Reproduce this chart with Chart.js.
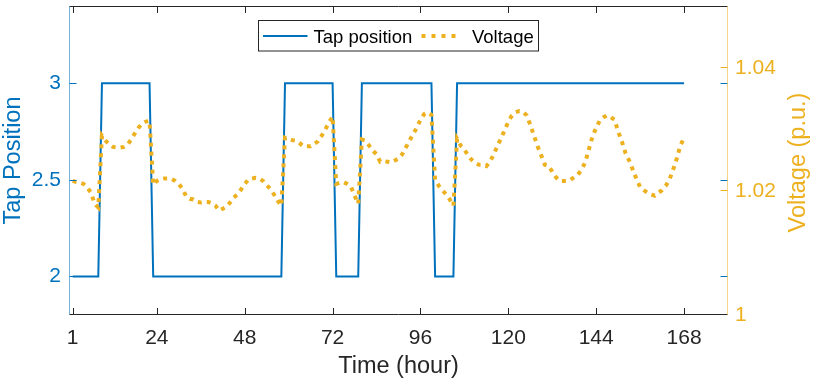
<!DOCTYPE html>
<html>
<head>
<meta charset="utf-8">
<script src="https://cdn.jsdelivr.net/npm/chart.js@4.4.1/dist/chart.umd.min.js"></script>
<style>
  html, body { margin: 0; padding: 0; background: #ffffff; }
  canvas { display: block; }
</style>
</head>
<body>
<canvas id="c" width="814" height="383"></canvas>
<script>
// ---------------- DATA ----------------
const hours = Array.from({ length: 168 }, (_, i) => i + 1);

const tapPosition = [
  2,2,2,2,2,2,2,2,
  3,3,3,3,3,3,3,3,3,3,3,3,3,3,
  2,2,2,2,2,2,2,2,2,2,2,2,
  2,2,2,2,2,2,2,2,2,2,2,2,
  2,2,2,2,2,2,2,2,2,2,2,2,
  3,3,3,3,3,3,3,3,3,3,3,3,3,3,
  2,2,2,2,2,2,2,
  3,3,3,3,3,3,3,3,3,3,
  3,3,3,3,3,3,3,3,3,3,
  2,2,2,2,2,2,
  3,3,3,3,3,3,3,3,3,3,
  3,3,3,3,3,3,3,3,3,3,
  3,3,3,3,3,3,3,3,3,3,
  3,3,3,3,3,3,3,3,3,3,
  3,3,3,3,3,3,3,3,3,3,
  3,3,3,3,3,3,3,3,3,3,
  3,3,3
];

const voltage = [
  1.0217,1.0215,1.0214,1.0212,1.0206,1.0198,1.0180,1.0174,1.0290,1.0282,
  1.0276,1.0272,1.0271,1.0271,1.0272,1.0276,1.0284,1.0294,1.0303,1.0310,
  1.0313,1.0314,1.0211,1.0217,1.0220,1.0221,1.0221,1.0220,1.0217,1.0212,
  1.0204,1.0192,1.0188,1.0187,1.0183,1.0182,1.0183,1.0183,1.0181,1.0177,
  1.0169,1.0172,1.0175,1.0182,1.0190,1.0195,1.0203,1.0212,1.0219,1.0221,
  1.0222,1.0221,1.0217,1.0210,1.0204,1.0195,1.0185,1.0177,1.0287,1.0285,
  1.0283,1.0282,1.0278,1.0273,1.0273,1.0273,1.0277,1.0281,1.0290,1.0300,
  1.0312,1.0321,1.0212,1.0214,1.0215,1.0212,1.0208,1.0193,1.0180,1.0284,
  1.0282,1.0274,1.0266,1.0260,1.0248,1.0249,1.0248,1.0247,1.0250,1.0253,
  1.0260,1.0271,1.0282,1.0293,1.0303,1.0316,1.0325,1.0328,1.0324,1.0219,
  1.0209,1.0202,1.0195,1.0187,1.0177,1.0285,1.0274,1.0268,1.0258,1.0251,
  1.0246,1.0243,1.0243,1.0241,1.0248,1.0260,1.0273,1.0286,1.0299,1.0313,
  1.0323,1.0328,1.0330,1.0329,1.0323,1.0308,1.0290,1.0273,1.0258,1.0243,
  1.0241,1.0232,1.0223,1.0217,1.0217,1.0217,1.0219,1.0223,1.0227,1.0235,
  1.0247,1.0268,1.0289,1.0303,1.0315,1.0320,1.0323,1.0320,1.0316,1.0297,
  1.0281,1.0262,1.0250,1.0235,1.0220,1.0207,1.0202,1.0198,1.0195,1.0193,
  1.0198,1.0202,1.0209,1.0219,1.0235,1.0253,1.0274,1.0287
];

const xTicks = [1, 24, 48, 72, 96, 120, 144, 168];
const xTickLabels = ['1', '24', '48', '72', '96', '120', '144', '168'];
const tapTicks = [2, 2.5, 3];
const tapTickLabels = ['2', '2.5', '3'];
const voltTicks = [1, 1.02, 1.04];
const voltTickLabels = ['1', '1.02', '1.04'];

const seriesNames = ['Tap position', 'Voltage'];
const axisTitles = { x: 'Time (hour)', left: 'Tap Position', right: 'Voltage (p.u.)' };

// ---------------- STYLE ----------------
const BLUE = '#0072BD';
const ORANGE = '#EDB120';
const DARK = '#262626';
const FONT = "'Liberation Sans', Arial, Helvetica, sans-serif";
const TICK_SIZE = 21;
const TITLE_SIZE = 23.5;
const LEGEND_SIZE = 18.5;

const framePlugin = {
  id: 'matlabFrame',
  afterDatasetsDraw(chart) {
    const ctx = chart.ctx;
    const a = chart.chartArea;
    const xs = chart.scales.x, yl = chart.scales.yTap, yr = chart.scales.yVolt;
    const L = Math.round(a.left) + 0.5, R = Math.round(a.right) - 0.5;
    const T = Math.round(a.top) + 0.5, B = Math.round(a.bottom) - 0.5;
    const tl = 6.5;
    ctx.save();
    ctx.lineWidth = 1;
    ctx.setLineDash([]);
    // x ticks (bottom & top, inward)
    ctx.strokeStyle = DARK;
    ctx.beginPath();
    xTicks.forEach(v => {
      const px = Math.round(xs.getPixelForValue(v)) + 0.5;
      ctx.moveTo(px, B); ctx.lineTo(px, B - tl);
      ctx.moveTo(px, T); ctx.lineTo(px, T + tl);
    });
    ctx.stroke();
    // tap ticks (both sides)
    ctx.strokeStyle = BLUE;
    ctx.beginPath();
    tapTicks.forEach(v => {
      const py = Math.round(yl.getPixelForValue(v)) + 0.5;
      ctx.moveTo(L, py); ctx.lineTo(L + 7, py);
      ctx.moveTo(R, py); ctx.lineTo(R - 7, py);
    });
    ctx.stroke();
    // voltage ticks (right side)
    ctx.strokeStyle = ORANGE;
    ctx.beginPath();
    voltTicks.forEach(v => {
      const py = Math.round(yr.getPixelForValue(v)) - 0.5;
      ctx.moveTo(R, py); ctx.lineTo(R - 7, py);
    });
    ctx.stroke();
    // frame
    ctx.strokeStyle = DARK;
    ctx.beginPath();
    ctx.moveTo(L, T); ctx.lineTo(R, T);
    ctx.moveTo(L, B); ctx.lineTo(R, B);
    ctx.stroke();
    ctx.strokeStyle = 'rgba(0,114,189,0.55)';
    ctx.beginPath(); ctx.moveTo(L, T); ctx.lineTo(L, B); ctx.stroke();
    ctx.strokeStyle = 'rgba(237,177,32,0.55)';
    ctx.beginPath(); ctx.moveTo(R, T); ctx.lineTo(R, B); ctx.stroke();
    ctx.restore();
  },
  afterDraw(chart) {
    const ctx = chart.ctx;
    const a = chart.chartArea;
    const ds = chart.data.datasets;
    ctx.save();
    // right axis title, reading bottom-to-top
    ctx.font = TITLE_SIZE + 'px ' + FONT;
    ctx.fillStyle = ORANGE;
    ctx.textAlign = 'center';
    ctx.textBaseline = 'middle';
    ctx.translate(a.right + 71, (a.top + a.bottom) / 2 + 2);
    ctx.rotate(-Math.PI / 2);
    ctx.fillText(axisTitles.right, 0, 0);
    ctx.restore();

    // legend box
    ctx.save();
    const bw = 280, bh = 30.5;
    const bx = Math.round((a.left + a.right) / 2 - bw / 2) - 0.5;
    const by = a.top + 14.5;
    ctx.fillStyle = '#ffffff';
    ctx.fillRect(bx, by, bw, bh);
    ctx.strokeStyle = DARK;
    ctx.lineWidth = 1;
    ctx.strokeRect(bx, by, bw, bh);
    const cy = by + 15.5;
    // item 1
    ctx.strokeStyle = ds[0].borderColor;
    ctx.lineWidth = ds[0].borderWidth;
    ctx.beginPath(); ctx.moveTo(bx + 4.5, cy); ctx.lineTo(bx + 49, cy); ctx.stroke();
    ctx.font = LEGEND_SIZE + 'px ' + FONT;
    ctx.fillStyle = '#000000';
    ctx.textAlign = 'left';
    ctx.textBaseline = 'alphabetic';
    ctx.fillText(ds[0].label, bx + 55, cy + 7);
    // item 2
    ctx.strokeStyle = ds[1].borderColor;
    ctx.lineWidth = ds[1].borderWidth;
    ctx.setLineDash([4, 6]);
    ctx.beginPath(); ctx.moveTo(bx + 163, cy); ctx.lineTo(bx + 200, cy); ctx.stroke();
    ctx.setLineDash([]);
    ctx.fillText(ds[1].label, bx + 213.5, cy + 7);
    ctx.restore();
  }
};

new Chart(document.getElementById('c').getContext('2d'), {
  type: 'line',
  data: {
    datasets: [
      {
        label: seriesNames[0],
        data: hours.map((h, i) => ({ x: h, y: tapPosition[i] })),
        yAxisID: 'yTap',
        borderColor: BLUE,
        borderWidth: 2,
        pointRadius: 0,
        tension: 0,
        fill: false,
        order: 2
      },
      {
        label: seriesNames[1],
        data: hours.map((h, i) => ({ x: h, y: voltage[i] })),
        yAxisID: 'yVolt',
        borderColor: ORANGE,
        borderWidth: 4,
        borderDash: [4, 5],
        borderCapStyle: 'butt',
        pointRadius: 0,
        tension: 0,
        fill: false,
        order: 1
      }
    ]
  },
  options: {
    responsive: false,
    animation: false,
    devicePixelRatio: 1,
    layout: { padding: { top: 6, left: 0, right: 0, bottom: 0 } },
    plugins: { legend: { display: false }, tooltip: { enabled: false } },
    scales: {
      x: {
        type: 'linear',
        position: 'bottom',
        min: 0,
        max: 180,
        grid: { display: false, drawTicks: false },
        border: { display: false },
        afterBuildTicks: s => { s.ticks = xTicks.map(v => ({ value: v })); },
        ticks: {
          color: DARK,
          font: { family: FONT, size: TICK_SIZE, lineHeight: 1.2 },
          padding: 11,
          maxRotation: 0,
          autoSkip: false,
          callback: (v, i) => xTickLabels[i]
        },
        title: {
          display: true,
          text: axisTitles.x,
          color: DARK,
          font: { family: FONT, size: TITLE_SIZE, lineHeight: 1.2 },
          padding: { top: 0, bottom: 2.5 }
        },
        afterFit: s => { s.height = 68; s.paddingLeft = 0; s.paddingRight = 0; }
      },
      yTap: {
        type: 'linear',
        position: 'left',
        min: 1.8,
        max: 3.4,
        grid: { display: false, drawTicks: false },
        border: { display: false },
        afterBuildTicks: s => { s.ticks = tapTicks.map(v => ({ value: v })); },
        ticks: {
          color: BLUE,
          font: { family: FONT, size: TICK_SIZE, lineHeight: 1.2 },
          padding: 8,
          callback: (v, i) => tapTickLabels[i]
        },
        title: {
          display: true,
          text: axisTitles.left,
          color: BLUE,
          font: { family: FONT, size: TITLE_SIZE, lineHeight: 1.2 },
          padding: { top: -1, bottom: 0 }
        },
        afterFit: s => { s.width = 69; s.paddingTop = 0; s.paddingBottom = 0; }
      },
      yVolt: {
        type: 'linear',
        position: 'right',
        min: 1,
        max: 1.05,
        grid: { display: false, drawTicks: false },
        border: { display: false },
        afterBuildTicks: s => { s.ticks = voltTicks.map(v => ({ value: v })); },
        ticks: {
          color: ORANGE,
          font: { family: FONT, size: TICK_SIZE, lineHeight: 1.2 },
          padding: 7,
          callback: (v, i) => voltTickLabels[i]
        },
        title: { display: false },
        afterFit: s => { s.width = 86; s.paddingTop = 0; s.paddingBottom = 0; }
      }
    }
  },
  plugins: [framePlugin]
});
</script>
</body>
</html>
